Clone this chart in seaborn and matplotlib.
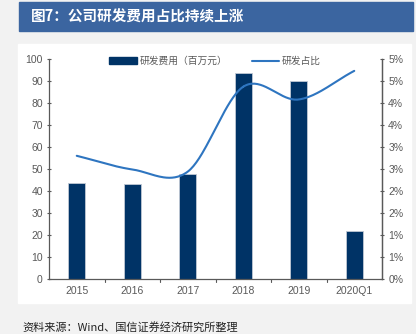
import numpy as np
import pandas as pd
import matplotlib
matplotlib.use("Agg")
import matplotlib.pyplot as plt
import seaborn as sns
from matplotlib.patches import Rectangle, Patch
from matplotlib.lines import Line2D
from matplotlib.ticker import FixedLocator, FuncFormatter

categories = ["2015", "2016", "2017", "2018", "2019", "2020Q1"]
rd_expense = [43.8, 43.0, 47.7, 93.5, 89.9, 21.6]      # 研发费用（百万元）
rd_ratio = [2.80, 2.49, 2.44, 4.37, 4.08, 4.73]        # 研发占比 (%)
left_ticks = [0, 10, 20, 30, 40, 50, 60, 70, 80, 90, 100]
right_ticks = [0, 0.5, 1, 1.5, 2, 2.5, 3, 3.5, 4, 4.5, 5]

sns.set_theme(style="white")
plt.rcParams['font.family'] = ['Liberation Sans', 'Noto Sans CJK SC', 'DejaVu Sans']
CJK = ['Noto Sans CJK SC', 'DejaVu Sans']
MIX = ['Liberation Sans', 'Noto Sans CJK SC', 'DejaVu Sans']

W, H = 416, 334
fig = plt.figure(figsize=(W / 100, H / 100), dpi=100, facecolor="#f2f2f2")

def px(x0, y0, x1, y1):
    return (x0 / W, 1 - y1 / H, (x1 - x0) / W, (y1 - y0) / H)

# title bar
fig.patches.append(Rectangle((19 / W, 1 - 31 / H), (413 - 19) / W, 29 / H,
                             transform=fig.transFigure, color="#3b65a0", zorder=-5))
fig.text(31 / W, 1 - 16.5 / H, "图7：公司研发费用占比持续上涨", color="white",
         fontsize=10.5, fontweight="bold", va="center", ha="left", family=CJK)
# white panel
fig.patches.append(Rectangle((18 / W, 1 - 303 / H), (411 - 18) / W, (303 - 44) / H,
                             transform=fig.transFigure, color="white", zorder=-5))
fig.text(22 / W, 1 - 327 / H, "资料来源：Wind、国信证券经济研究所整理", color="#222222",
         fontsize=8, va="center", ha="left", family=CJK)

ax = fig.add_axes(px(49, 59, 382, 279))
ax.set_facecolor("none")
df = pd.DataFrame({"cat": categories, "val": rd_expense})
sns.barplot(data=df, x="cat", y="val", ax=ax, color="#003366", width=0.31,
            edgecolor="#c0c8d4", linewidth=0.6, saturation=1)
ax.set_xlim(-0.5, len(categories) - 0.5)
ax.set_ylim(0, 100)
ax.yaxis.set_major_locator(FixedLocator(left_ticks))
ax.set_xlabel("")
ax.set_ylabel("")
ax.grid(False)
ax.spines["top"].set_visible(False)
for s in ["left", "bottom", "right"]:
    ax.spines[s].set_color("#595959")
    ax.spines[s].set_linewidth(0.9)
ax.tick_params(axis="y", colors="#595959", labelsize=7.5, length=3, width=0.8,
               direction="inout", left=True, pad=3)
ax.tick_params(axis="x", colors="#595959", labelsize=7.5, length=0, pad=5)
# category boundary tick marks
for b in np.arange(0.5, len(categories) - 0.5, 1.0):
    ax.plot([b, b], [0, -1.4], color="#595959", lw=0.8, clip_on=False)

ax2 = ax.twinx()
ax2.set_ylim(0, 5)
ax2.yaxis.set_major_locator(FixedLocator(right_ticks))
ax2.yaxis.set_major_formatter(FuncFormatter(lambda v, p: f"{int(np.floor(v + 0.5))}%"))
ax2.tick_params(axis="y", colors="#595959", labelsize=7.5, length=3, width=0.8,
                direction="inout", right=True, pad=3)
for s in ["top", "left", "bottom"]:
    ax2.spines[s].set_visible(False)
ax2.spines["right"].set_color("#595959")
ax2.spines["right"].set_linewidth(0.9)
ax2.grid(False)

# smoothed line (Catmull-Rom through the data points, Excel style)
xs = np.arange(len(rd_ratio), dtype=float)
ys = np.array(rd_ratio, dtype=float)
P = np.concatenate([[2 * ys[0] - ys[1]], ys, [2 * ys[-1] - ys[-2]]])
cx, cy = [], []
for i in range(len(ys) - 1):
    t = np.linspace(0, 1, 40)
    p0, p1, p2, p3 = P[i], P[i + 1], P[i + 2], P[i + 3]
    yy = 0.5 * ((2 * p1) + (-p0 + p2) * t + (2 * p0 - 5 * p1 + 4 * p2 - p3) * t ** 2
                + (-p0 + 3 * p1 - 3 * p2 + p3) * t ** 3)
    cx.extend(xs[i] + t)
    cy.extend(yy)
sns.lineplot(x=cx, y=cy, ax=ax2, color="#2e75c0", lw=1.5, sort=False,
             estimator=None, legend=False)

handles = [Patch(facecolor="#003366", edgecolor="#003366"),
           Line2D([0], [0], color="#2e75c0", lw=1.5)]
leg = fig.legend(handles, ["研发费用（百万元）", "研发占比"], loc="center",
                 bbox_to_anchor=(215 / W, 1 - 61 / H), ncol=2, frameon=False,
                 fontsize=7, handlelength=2.8, handleheight=0.6, columnspacing=2.5,
                 handletextpad=0.3, prop={"family": CJK, "size": 7})
for t in leg.get_texts():
    t.set_color("#595959")

fig.savefig("out.png", dpi=100, facecolor=fig.get_facecolor())
